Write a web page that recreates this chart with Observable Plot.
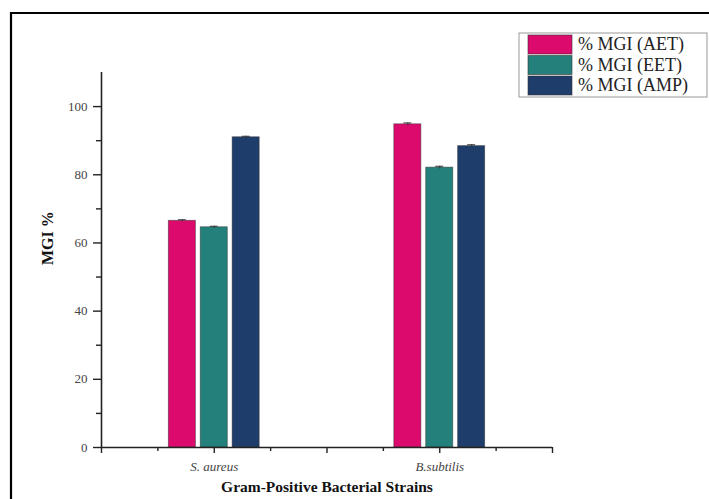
<!DOCTYPE html>
<html><head><meta charset="utf-8">
<script src="https://cdn.jsdelivr.net/npm/d3@7"></script>
<script src="https://cdn.jsdelivr.net/npm/@observablehq/plot@0.6"></script>
<style>
body{margin:0;background:#fff}
#chart{position:relative;width:709px;height:499px}
</style>
</head><body><div id="chart"></div>
<script>
const strains = ["S. aureus", "B.subtilis"];
const strainPos = [2, 6];
const series = ["% MGI (AET)", "% MGI (EET)", "% MGI (AMP)"];
const seriesColors = ["#dc0a6c", "#23807a", "#1f3d6b"];
const aet = [66.5, 94.8];
const eet = [64.6, 82.1];
const amp = [91.0, 88.4];
const aetErr = [0.3, 0.4];
const eetErr = [0.3, 0.4];
const ampErr = [0.3, 0.4];
const yTicks = [0, 20, 40, 60, 80, 100];
const yMinor = [10, 30, 50, 70, 90];
const xMajor = [0, 2, 4, 6, 8];
const xMinor = [1, 3, 5, 7];

const values = [aet, eet, amp];
const errs = [aetErr, eetErr, ampErr];
const data = [];
strains.forEach((s, i) => series.forEach((ser, si) => {
  data.push({strain: s, pos: strainPos[i], series: ser, si, value: values[si][i], err: errs[si][i]});
}));
const step = 0.566, half = 0.24;
const cx = d => d.pos + (d.si - 1) * step;

const font = "'Liberation Serif', 'Times New Roman', serif";
const plot = Plot.plot({
  width: 709, height: 499,
  marginLeft: 101, marginRight: 157, marginTop: 72, marginBottom: 52,
  style: {fontFamily: font, background: "transparent", color: "#222"},
  x: {domain: [0, 8], axis: null},
  y: {domain: [0, 110], axis: null},
  color: {domain: series, range: seriesColors},
  marks: [
    Plot.rect(data, {x1: d => cx(d) - half, x2: d => cx(d) + half, y1: 0, y2: "value", fill: "series", stroke: "#333", strokeOpacity: 0.6, strokeWidth: 0.8}),
    Plot.ruleX(data, {x: cx, y1: d => d.value - d.err, y2: d => d.value + d.err, stroke: "#333", strokeWidth: 1}),
    Plot.ruleY(data, {x1: d => cx(d) - 0.07, x2: d => cx(d) + 0.07, y: d => d.value + d.err, stroke: "#333", strokeWidth: 1}),
    Plot.axisY({ticks: yTicks, tickSize: 8, tickPadding: 6, fontSize: 13, stroke: "#222", strokeWidth: 1.4, color: "#444", label: null}),
    Plot.axisY({ticks: yMinor, tickSize: 5, tickFormat: () => "", stroke: "#222", strokeWidth: 1.4, label: null}),
    Plot.axisX({ticks: xMajor, tickSize: 6, tickFormat: () => "", stroke: "#222", strokeWidth: 1.4, label: null}),
    Plot.axisX({ticks: xMinor, tickSize: 4, tickFormat: () => "", stroke: "#222", strokeWidth: 1.4, label: null}),
    Plot.ruleY([0], {stroke: "#222", strokeWidth: 1.6}),
    Plot.ruleX([0], {stroke: "#222", strokeWidth: 1.6}),
    Plot.text(strains, {x: (d, i) => strainPos[i], y: 0, dy: 19, fontStyle: "italic", fontSize: 13, fill: "#444"}),
    Plot.text(["Gram-Positive Bacterial Strains"], {frameAnchor: "bottom", dy: 44, fontWeight: "bold", fontSize: 15.5, fill: "#111"}),
    Plot.text(["MGI %"], {frameAnchor: "left", dx: -54, dy: 5, rotate: -90, fontWeight: "bold", fontSize: 16, fill: "#111"})
  ]
});
document.getElementById("chart").appendChild(plot);

const svg = d3.select(plot);
// frame lines (top and left)
svg.append("line").attr("x1", 11).attr("x2", 709).attr("y1", 13).attr("y2", 13).attr("stroke", "#000").attr("stroke-width", 2.2);
svg.append("line").attr("x1", 11).attr("x2", 11).attr("y1", 12).attr("y2", 499).attr("stroke", "#000").attr("stroke-width", 2.2);
// legend
const lg = svg.append("g");
lg.append("rect").attr("x", 519).attr("y", 33).attr("width", 188).attr("height", 64).attr("fill", "#fff").attr("stroke", "#999").attr("stroke-width", 1);
series.forEach((s, i) => {
  const y0 = 35 + i * 20.5;
  lg.append("rect").attr("x", 528).attr("y", y0).attr("width", 44).attr("height", 19).attr("fill", seriesColors[i]).attr("stroke", "#333").attr("stroke-opacity", 0.6);
  lg.append("text").attr("x", 578).attr("y", y0 + 15).attr("text-anchor", "start")
    .style("font-family", font).style("font-size", "18px").attr("fill", "#222").text(s);
});
</script>
</body></html>
